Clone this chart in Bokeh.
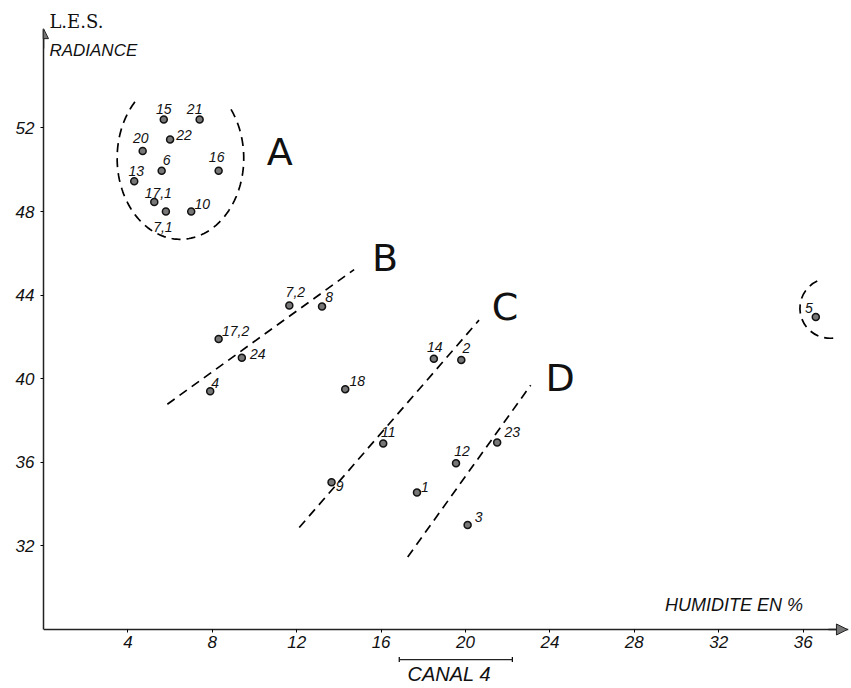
import numpy as np
from bokeh.plotting import figure
from bokeh.models import (ColumnDataSource, FixedTicker, Arrow, NormalHead,
                          TeeHead, Label, Range1d)
from bokeh.core.properties import value
from bokeh.embed import file_html
from bokeh.resources import INLINE

# ---- data ----
point_labels = ["15", "21", "22", "20", "6", "16", "13", "17,1", "7,1", "10",
                "7,2", "8", "17,2", "24", "4", "18",
                "14", "2", "11", "12", "23", "9", "1", "3", "5"]
humidite = [5.7, 7.4, 6.0, 4.7, 5.6, 8.3, 4.3, 5.25, 5.8, 7.0,
            11.65, 13.2, 8.3, 9.4, 7.9, 14.3,
            18.5, 19.8, 16.1, 19.55, 21.5, 13.65, 17.7, 20.1, 36.6]
radiance = [52.4, 52.4, 51.45, 50.9, 49.95, 49.95, 49.45, 48.45, 48.0, 48.0,
            43.5, 43.45, 41.9, 41.0, 39.4, 39.5,
            40.95, 40.9, 36.9, 35.95, 36.95, 35.05, 34.55, 33.0, 42.95]

x_ticks = [4, 8, 12, 16, 20, 24, 28, 32, 36]
y_ticks = [32, 36, 40, 44, 48, 52]

# dashed trend lines of groups B, C, D
line_B_x = [5.87, 14.72]
line_B_y = [38.78, 45.22]
line_C_x = [12.12, 20.64]
line_C_y = [32.88, 42.8]
line_D_x = [17.26, 23.09]
line_D_y = [31.47, 39.69]

group_names = ["A", "B", "C", "D"]
group_x = [11.2, 16.18, 21.87, 24.48]
group_y = [50.85, 45.77, 43.42, 40.02]

# enclosure of group A (ellipse) and of point 5 (arc)
ellA_cx, ellA_cy, ellA_a, ellA_b = 6.49, 50.55, 3.0, 3.88
ellA_start, ellA_end = 136, 397
arc5_x, arc5_y = 37.27, 43.37

# label placement (screen px, style only)
lab_dx = [0, -5, 14, -2, 5, -2, 2, 4, -3, 11,
          6, 7, 17, 16, 5, 12,
          1, 5, 5, 6, 15, 8, 8, 11, -7]
lab_dy = [-11, -11, -4, -13, -11, -14, -10, -9, 15, -8,
          -14, -10, -8, -4, -8, -8,
          -12, -12, -11, -12, -10, 4, -6, -8, -9]

FONT = "Liberation Sans"

p = figure(width=851, height=688, x_range=Range1d(0, 38.15),
           y_range=Range1d(25.177, 57.713), output_backend="svg",
           toolbar_location=None, min_border_left=43, min_border_bottom=0,
           min_border_top=8, min_border_right=3)
p.outline_line_color = None
p.grid.visible = False

for ax in (p.xaxis, p.yaxis):
    ax.axis_line_width = 1.5
    ax.axis_line_color = "#222222"
    ax.major_tick_in = 0
    ax.major_tick_out = 3
    ax.minor_tick_line_color = None
    ax.major_label_text_font = FONT
    ax.major_label_text_font_style = "italic"
    ax.major_label_text_font_size = "17px"
    ax.major_label_text_color = "#111111"
p.xaxis.ticker = FixedTicker(ticks=x_ticks)
p.yaxis.ticker = FixedTicker(ticks=y_ticks)
p.xaxis.fixed_location = 28
p.xaxis.major_label_standoff = 4
p.yaxis.major_label_standoff = 6
p.yaxis.bounds = (28, 56.7)

# axis arrows
p.add_layout(Arrow(end=NormalHead(size=10, fill_color="#777777", line_color="#222222"),
                   x_start=0, y_start=55.8, x_end=0, y_end=56.75,
                   line_width=1.5, line_color="#222222"))
p.add_layout(Arrow(end=NormalHead(size=11, fill_color="#777777", line_color="#222222"),
                   x_start=37.2, y_start=28, x_end=38.1, y_end=28,
                   line_width=1.5, line_color="#222222"))

dash = "9 6"
p.line(line_B_x, line_B_y, line_dash=dash, line_width=1.7, color="black")
p.line(line_C_x, line_C_y, line_dash=dash, line_width=1.7, color="black")
p.line(line_D_x, line_D_y, line_dash=dash, line_width=1.7, color="black")

t = np.radians(np.linspace(ellA_start, ellA_end, 150))
p.line(ellA_cx + ellA_a * np.cos(t), ellA_cy + ellA_b * np.sin(t),
       line_dash=dash, line_width=1.7, color="black")
p.arc(x=[arc5_x], y=[arc5_y], radius=30, radius_units="screen",
      start_angle=np.radians(115), end_angle=np.radians(280),
      line_dash=dash, line_width=1.7, color="black")

src = ColumnDataSource(dict(x=humidite, y=radiance, t=point_labels,
                            dx=lab_dx, dy=lab_dy))
p.scatter("x", "y", source=src, size=7, fill_color="#777777",
          line_color="#111111", line_width=1.5)
p.text("x", "y", text="t", source=src, x_offset="dx", y_offset="dy",
       text_align="center", text_baseline="middle",
       text_font=value(FONT), text_font_style="italic",
       text_font_size="14px", text_color="#111111")

p.text(group_x, group_y, text=group_names, text_align="center",
       text_baseline="middle", text_font=value("DejaVu Sans"),
       text_font_size="38px", text_color="#111111")

p.add_layout(Label(x=0.28, y=57.09, text="L.E.S.", text_font="DejaVu Serif",
                   text_font_size="18px", text_baseline="middle",
                   text_color="#111111"))
p.add_layout(Label(x=0.28, y=55.7, text="RADIANCE", text_font=FONT,
                   text_font_style="italic", text_font_size="17px",
                   text_baseline="middle", text_color="#111111"))
p.add_layout(Label(x=29.45, y=29.15, text="HUMIDITE EN %", text_font=FONT,
                   text_font_style="italic", text_font_size="18px",
                   text_baseline="middle", text_color="#111111"))
p.add_layout(Label(x=19.36, y=25.87, text="CANAL  4", text_font=FONT,
                   text_font_style="italic", text_font_size="20px",
                   text_align="center", text_baseline="middle",
                   text_color="#111111"))
p.add_layout(Arrow(start=TeeHead(size=5, line_width=1.2), end=TeeHead(size=5, line_width=1.2),
                   x_start=16.86, y_start=26.56, x_end=22.22, y_end=26.56,
                   line_width=1.2, line_color="#222222"))

open("out.html", "w").write(file_html(p, INLINE))
